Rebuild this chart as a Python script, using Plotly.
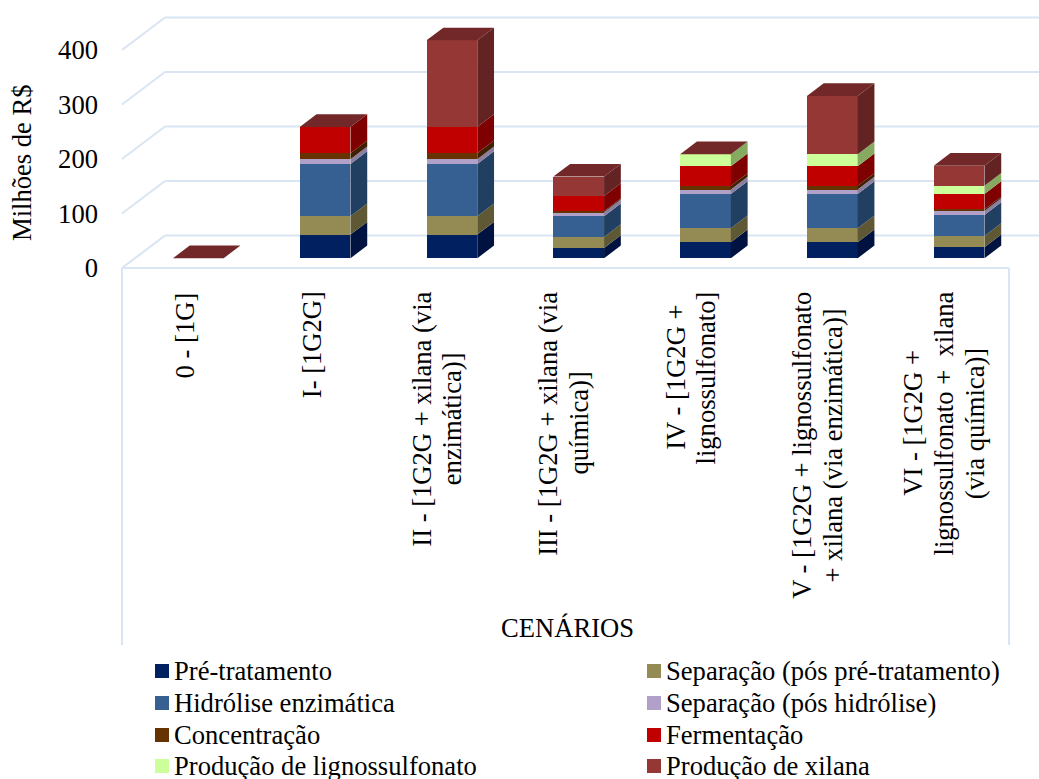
import plotly.graph_objects as go

# Scenario labels, one list of wrapped lines per category
categories = [
    ["0 - [1G]"],
    ["I- [1G2G]"],
    ["II - [1G2G + xilana (via", "enzimática)]"],
    ["III - [1G2G + xilana (via", "química)]"],
    ["IV - [1G2G +", "lignossulfonato]"],
    ["V - [1G2G + lignossulfonato", "+ xilana (via enzimática)]"],
    ["VI - [1G2G +", "lignossulfonato +  xilana", "(via química)]"],
]

# Cost per process stage, millions of R$
pre_tratamento = [0, 43.4, 43.4, 19.0, 29.4, 29.4, 20.2]
separacao_pre = [0, 33.6, 33.6, 20.2, 25.7, 25.7, 20.8]
hidrolise = [0, 96.0, 96.0, 37.9, 63.0, 63.0, 38.5]
separacao_hid = [0, 8.6, 8.6, 7.3, 8.0, 8.0, 7.3]
concentracao = [0, 11.0, 11.0, 1.8, 6.7, 6.7, 3.0]
fermentacao = [0, 48.3, 48.3, 28.1, 36.0, 36.0, 28.0]
lignossulfonato = [0, 0, 0, 0, 22.0, 22.0, 15.3]
xilana = [0, 0, 159.0, 35.5, 0, 107.0, 36.7]

series_names = [
    "Pré-tratamento", "Separação (pós pré-tratamento)",
    "Hidrólise enzimática", "Separação (pós hidrólise)",
    "Concentração", "Fermentação",
    "Produção de lignossulfonato", "Produção de xilana",
]
series_values = [
    pre_tratamento, separacao_pre, hidrolise, separacao_hid,
    concentracao, fermentacao, lignossulfonato, xilana,
]
front_colors = ["#002060", "#948A54", "#366092", "#B1A0C7",
                "#663300", "#C00000", "#CCFF99", "#953735"]
side_colors = ["#00123F", "#5F5835", "#213F60", "#8B7EA0",
               "#3F2000", "#7F0000", "#86AA60", "#632323"]
top_color = "#722828"
grid_color = "#D9E5F3"
y_ticks = [0, 100, 200, 300, 400]
FONT = "Liberation Serif"
FONT_SIZE = 26.6

# Page geometry of the plotting frame
PX_PER_CAT = 126.8
PX_PER_UNIT = 0.545
FRAME_LEFT, FRAME_RIGHT, FLOOR_PX, FRAME_BOTTOM = 122, 1009, 268, 645
PLOT_LEFT, PLOT_BOTTOM, WIDTH, HEIGHT = 118, 272, 1039, 779

# Vertical centre of each rotated label, its sideways nudge, and the spacing between wrapped lines
LABEL_CENTERS = [335, 345, 419, 423.4, 377.5, 445.8, 423.3]
LABEL_SHIFTS = [0, 0, -2, -2, -2, -2, -2]
LABEL_LINE_GAP = 30.7

# Oblique projection: depth 0 is the front of the floor, depth 1 the back wall
DEPTH_X = 43 / PX_PER_CAT
DEPTH_Y = 32.5 / PX_PER_UNIT
BAR_NEAR, BAR_FAR = 0.30, 0.69
BAR_WIDTH = 0.40


def project(cat, value, depth):
    return cat + depth * DEPTH_X, value + depth * DEPTH_Y


def paper_x(px):
    return (px - PLOT_LEFT) / (WIDTH - PLOT_LEFT)


def paper_y(px):
    return (PLOT_BOTTOM - px) / PLOT_BOTTOM


x_left = -0.5 - (FRAME_LEFT - PLOT_LEFT) / PX_PER_CAT
x_right = x_left + (WIDTH - PLOT_LEFT) / PX_PER_CAT
x_front_end = -0.5 + (FRAME_RIGHT - FRAME_LEFT) / PX_PER_CAT
y_low = -(PLOT_BOTTOM - FLOOR_PX) / PX_PER_UNIT
y_high = FLOOR_PX / PX_PER_UNIT

fig = go.Figure()

# Stacked columns: front faces as bars, side faces as filled polygons
positions = list(range(len(categories)))
running = [0.0] * len(categories)
for name, values, front, side in zip(series_names, series_values, front_colors, side_colors):
    fig.add_trace(go.Bar(
        name=name,
        x=[project(i, 0, BAR_NEAR)[0] for i in positions],
        y=values,
        base=[project(i, b, BAR_NEAR)[1] for i, b in zip(positions, running)],
        width=BAR_WIDTH,
        marker=dict(color=front, line=dict(width=0)),
        showlegend=False,
    ))
    side_x, side_y = [], []
    for i, low, v in zip(positions, running, values):
        if v <= 0:
            continue
        corners = [(low, BAR_NEAR), (low + v, BAR_NEAR), (low + v, BAR_FAR), (low, BAR_FAR), (low, BAR_NEAR)]
        for val, depth in corners:
            px, py = project(i + BAR_WIDTH / 2, val, depth)
            side_x.append(px)
            side_y.append(py)
        side_x.append(None)
        side_y.append(None)
    fig.add_trace(go.Scatter(
        x=side_x, y=side_y, mode="lines", fill="toself", fillcolor=side,
        line=dict(width=0), hoverinfo="skip", showlegend=False,
    ))
    running = [r + v for r, v in zip(running, values)]

# Top caps of every stack
top_x, top_y = [], []
for i, total in zip(positions, running):
    for dx, depth in [(-0.5, BAR_NEAR), (0.5, BAR_NEAR), (0.5, BAR_FAR), (-0.5, BAR_FAR), (-0.5, BAR_NEAR)]:
        px, py = project(i + dx * BAR_WIDTH, total, depth)
        top_x.append(px)
        top_y.append(py)
    top_x.append(None)
    top_y.append(None)
fig.add_trace(go.Scatter(
    x=top_x, y=top_y, mode="lines", fill="toself", fillcolor=top_color,
    line=dict(width=0), hoverinfo="skip", showlegend=False,
))

shapes = []
grid_line = dict(color=grid_color, width=2)

# Back wall and left wall gridlines
for tick in y_ticks:
    wall_x, wall_y = project(-0.5, tick, 1)
    front_x, front_y = project(-0.5, tick, 0)
    shapes.append(dict(type="line", xref="x", yref="y", layer="below", line=grid_line,
                       x0=wall_x, y0=wall_y, x1=x_right, y1=wall_y))
    shapes.append(dict(type="line", xref="x", yref="y", layer="below", line=grid_line,
                       x0=front_x, y0=front_y, x1=wall_x, y1=wall_y))

# Front edge of the floor and the frame dropping to the axis title
shapes.append(dict(type="line", xref="x", yref="y", layer="below", line=grid_line,
                   x0=-0.5, y0=0, x1=x_front_end, y1=0))
for edge in (FRAME_LEFT, FRAME_RIGHT):
    shapes.append(dict(type="line", xref="paper", yref="paper", layer="below", line=grid_line,
                       x0=paper_x(edge), x1=paper_x(edge), y0=paper_y(FLOOR_PX), y1=paper_y(FRAME_BOTTOM)))

annotations = []
text_font = dict(family=FONT, size=FONT_SIZE, color="#000000")

# Rotated scenario labels, each wrapped line centred on the category's label centre
for i, lines, center, shift in zip(positions, categories, LABEL_CENTERS, LABEL_SHIFTS):
    for k, line in enumerate(lines):
        annotations.append(dict(
            text=line, xref="x", yref="paper", x=i, y=paper_y(center),
            xanchor="center", yanchor="middle", textangle=-90,
            xshift=(k - (len(lines) - 1) / 2) * LABEL_LINE_GAP + shift,
            showarrow=False, font=text_font,
        ))

annotations.append(dict(
    text="Milhões de R$", xref="paper", yref="paper", x=paper_x(22), y=paper_y(163),
    xanchor="center", yanchor="middle", textangle=-90, showarrow=False, font=text_font,
))
annotations.append(dict(
    text="CENÁRIOS", xref="paper", yref="paper", x=paper_x(567.5), y=paper_y(628),
    xanchor="center", yanchor="middle", showarrow=False, font=text_font,
))

# Two-column key below the chart
SWATCH = 14
KEY_COLUMNS = [155, 647]
KEY_ROWS = [671, 703, 735, 766]
for idx, (name, color) in enumerate(zip(series_names, front_colors)):
    col_px = KEY_COLUMNS[idx % 2]
    row_px = KEY_ROWS[idx // 2]
    shapes.append(dict(type="rect", xref="paper", yref="paper", fillcolor=color, line=dict(width=0),
                       x0=paper_x(col_px), x1=paper_x(col_px + SWATCH),
                       y0=paper_y(row_px - SWATCH / 2), y1=paper_y(row_px + SWATCH / 2)))
    annotations.append(dict(
        text=name, xref="paper", yref="paper", x=paper_x(col_px + 19), y=paper_y(row_px),
        xanchor="left", yanchor="middle", showarrow=False, font=text_font,
        borderpad=0, xshift=-1,
    ))

fig.update_layout(
    width=WIDTH, height=HEIGHT, autosize=False,
    margin=dict(l=PLOT_LEFT, r=0, t=0, b=HEIGHT - PLOT_BOTTOM),
    paper_bgcolor="white", plot_bgcolor="white",
    barmode="overlay", bargap=0,
    shapes=shapes, annotations=annotations,
    font=text_font,
    xaxis=dict(range=[x_left, x_right], showticklabels=False, ticks="",
               showgrid=False, zeroline=False, showline=False, fixedrange=True),
    yaxis=dict(range=[y_low, y_high], tickvals=y_ticks, ticks="", ticklabelstandoff=19,
               showgrid=False, zeroline=False, showline=False, fixedrange=True,
               tickfont=text_font),
)

fig.write_html("out.html")
